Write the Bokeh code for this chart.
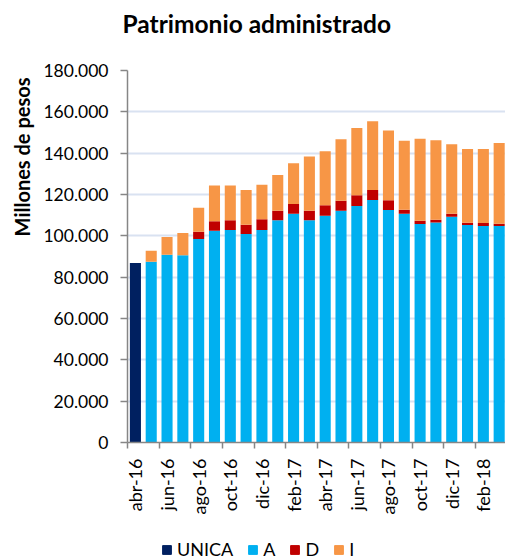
from math import pi
from bokeh.plotting import figure
from bokeh.layouts import column
from bokeh.models import (ColumnDataSource, FixedTicker, CustomJSTickFormatter, Title,
                          Legend, LegendItem, Range1d)
from bokeh.embed import file_html
from bokeh.resources import INLINE

months = ["abr-16", "may-16", "jun-16", "jul-16", "ago-16", "sep-16", "oct-16", "nov-16",
          "dic-16", "ene-17", "feb-17", "mar-17", "abr-17", "may-17", "jun-17", "jul-17",
          "ago-17", "sep-17", "oct-17", "nov-17", "dic-17", "ene-18", "feb-18", "mar-18"]

# Millones de pesos (miles)
unica = [86.8] + [0] * 23
a = [0, 87.5, 90.9, 90.6, 98.5, 102.5, 102.8, 100.9, 102.8, 107.5, 110.7, 107.6,
     109.7, 112.1, 114.4, 117.3, 112.5, 110.7, 105.7, 106.5, 109.2, 105.2, 104.7, 104.7]
d = [0, 0, 0, 0, 3.5, 4.5, 4.8, 4.5, 5.2, 4.6, 4.7, 4.5,
     5.1, 4.9, 5.2, 4.9, 4.7, 1.9, 1.6, 1.3, 1.5, 1.1, 1.5, 1.2]
i_ = [0, 5.3, 8.5, 10.8, 11.6, 17.4, 16.8, 16.8, 16.7, 17.3, 19.7, 26.3,
      26.1, 29.7, 32.6, 33.3, 33.8, 33.4, 39.7, 38.5, 33.6, 35.7, 35.8, 39.0]

series = ["UNICA", "A", "D", "I"]
colors = ["#002060", "#00B0F0", "#C00000", "#F79646"]
y_ticks = list(range(0, 180001, 20000))

src = ColumnDataSource(dict(
    x=list(range(len(months))),
    UNICA=[v * 1000 for v in unica],
    A=[v * 1000 for v in a],
    D=[v * 1000 for v in d],
    I=[v * 1000 for v in i_],
))

FONT = "Lato"
AX = "#868686"

p = figure(width=505, height=538, output_backend="svg", toolbar_location=None,
           x_range=Range1d(-0.5, 23.4), y_range=Range1d(0, 180000),
           min_border_left=127, min_border_right=0, min_border_top=70, min_border_bottom=96)
p.title = None
p.outline_line_color = None
p.background_fill_color = "white"

# spacer (closest to the frame) then the real title further out
p.add_layout(Title(text=" ", text_font_size="1px", standoff=28), "above")
p.add_layout(Title(text="Patrimonio administrado", align="left", offset=-5, standoff=4,
                   text_font=FONT, text_font_style="bold", text_font_size="24.5px",
                   text_color="#000000"), "above")

rs = p.vbar_stack(series, x="x", width=0.7, color=colors, line_color=None, source=src)

# x axis
p.xaxis.ticker = FixedTicker(ticks=list(range(0, 24, 2)),
                             minor_ticks=[k - 0.5 for k in range(0, 26, 2)])
p.xaxis.major_label_overrides = {k: months[k] for k in range(0, 24, 2)}
p.xaxis.major_label_orientation = pi / 2
p.xaxis.major_tick_out = 0
p.xaxis.major_tick_in = 0
p.xaxis.minor_tick_out = 6
p.xaxis.minor_tick_in = 0
p.xaxis.minor_tick_line_color = AX
p.xaxis.minor_tick_line_width = 1.5
p.xaxis.major_label_standoff = 10
p.xaxis.major_label_text_font_size = "18px"

# y axis
p.yaxis.ticker = FixedTicker(ticks=y_ticks)
p.yaxis.formatter = CustomJSTickFormatter(
    code=r"return Math.round(tick).toString().replace(/\B(?=(\d{3})+(?!\d))/g, '.');")
p.yaxis.major_tick_out = 7
p.yaxis.major_tick_in = 0
p.yaxis.minor_tick_line_color = None
p.yaxis.major_label_standoff = 12
p.yaxis.major_label_text_font_size = "17.5px"

for ax in (p.xaxis, p.yaxis):
    ax.axis_line_color = AX
    ax.axis_line_width = 1.5
    ax.major_tick_line_color = AX
    ax.major_tick_line_width = 1.5
    ax.major_label_text_font = FONT
    ax.major_label_text_color = "#000000"

p.xgrid.grid_line_color = None
p.ygrid.grid_line_color = "#D9E2F1"
p.ygrid.grid_line_width = 2

# y axis title, placed in the upper part like the reference
p.add_layout(Title(text="Millones de pesos", align="right", offset=7, standoff=12,
                   vertical_align="middle",
                   text_font=FONT, text_font_style="bold", text_font_size="20px",
                   text_color="#000000"), "left")

# legend strip below the chart
pl = figure(width=505, height=22, output_backend="svg", toolbar_location=None,
            x_range=Range1d(0, 1), y_range=Range1d(0, 1),
            x_axis_location=None, y_axis_location=None, min_border=0)
pl.title = None
pl.outline_line_color = None
pl.xgrid.grid_line_color = None
pl.ygrid.grid_line_color = None
proxies = [pl.vbar(x=[5], top=[1], width=0.5, color=c) for c in colors]
legend = Legend(items=[LegendItem(label=s, renderers=[r]) for s, r in zip(series, proxies)],
                location=(34, 0), orientation="horizontal",
                glyph_width=11, glyph_height=11, label_standoff=5, spacing=14,
                padding=0, margin=0, border_line_color=None, background_fill_alpha=0,
                label_text_font=FONT, label_text_font_size="18px", label_width=1,
                label_text_color="#000000")
pl.add_layout(legend)

open("out.html", "w").write(file_html(column(p, pl, spacing=0), INLINE))
